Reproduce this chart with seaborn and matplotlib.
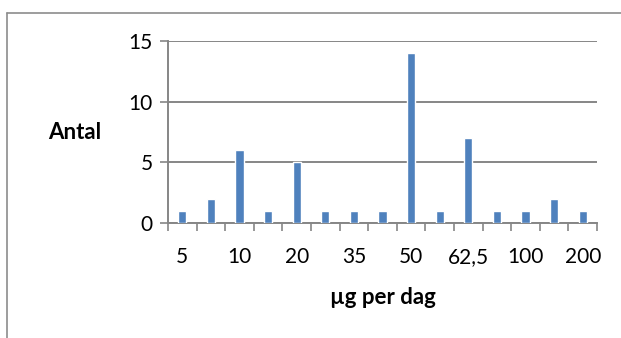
import matplotlib
matplotlib.use("Agg")
import matplotlib.pyplot as plt
import pandas as pd
import seaborn as sns
from matplotlib.lines import Line2D

# Doses (µg per dag) - only every other label is printed on the axis
doses = ["5", "7,5", "10", "15", "20", "25", "35", "40", "50", "60",
         "62,5", "75", "100", "150", "200"]
counts = [1, 2, 6, 1, 5, 1, 1, 1, 14, 1, 7, 1, 1, 2, 1]
y_ticks = [0, 5, 10, 15]

df = pd.DataFrame({"dose": doses, "antal": counts})

sns.set_style("white", {"text.color": "black", "xtick.color": "black", "ytick.color": "black",
                        "axes.labelcolor": "black"})
plt.rcParams["font.family"] = ["Lato", "DejaVu Sans"]

grey = "#868686"
fig = plt.figure(figsize=(6.21, 3.38), dpi=100)
ax = fig.add_axes([168 / 621, 1 - 223 / 338, (597 - 168) / 621, (223 - 41) / 338])

sns.barplot(data=df, x="dose", y="antal", order=doses, color="#4F81BD",
            width=0.28, saturation=1, ax=ax, zorder=3)

ax.set_ylim(0, 15)
ax.set_xlim(-0.5, len(doses) - 0.5)
ax.set_yticks(y_ticks)
ax.yaxis.grid(True, color=grey, linewidth=1.4, zorder=0)
ax.set_axisbelow(True)

# ticks between categories, labels on every second category
ax.set_xticks([i - 0.5 for i in range(len(doses) + 1)], minor=True)
ax.set_xticks(range(0, len(doses), 2))
ax.set_xticklabels(doses[::2], fontsize=15)
ax.tick_params(axis="x", which="major", length=0, pad=17, labelcolor="black")
ax.tick_params(axis="x", which="minor", length=6, width=1.2, color=grey, direction="out")
ax.tick_params(axis="y", which="major", length=6, width=1.2, color=grey, labelsize=15, pad=5,
               labelcolor="black")
ax.tick_params(bottom=True, left=True, which="both")

for side in ["top", "right"]:
    ax.spines[side].set_visible(False)
for side in ["left", "bottom"]:
    ax.spines[side].set_color(grey)
    ax.spines[side].set_linewidth(1.4)

ax.set_xlabel("µg per dag", fontsize=16, fontweight="bold", color="black")
ax.xaxis.set_label_coords(0.5, -0.35)
ax.set_ylabel("Antal", fontsize=16, fontweight="bold", rotation=0, va="center", ha="center",
              color="black")
ax.yaxis.set_label_coords(-0.217, 0.495)

# chart-area border (left and top only visible)
fig.add_artist(Line2D([7 / 621, 7 / 621], [0, 1 - 13 / 338], color="#8c8c8c", linewidth=1.2))
fig.add_artist(Line2D([7 / 621, 1], [1 - 13 / 338, 1 - 13 / 338], color="#8c8c8c", linewidth=1.2))

fig.savefig("out.png", dpi=100)
